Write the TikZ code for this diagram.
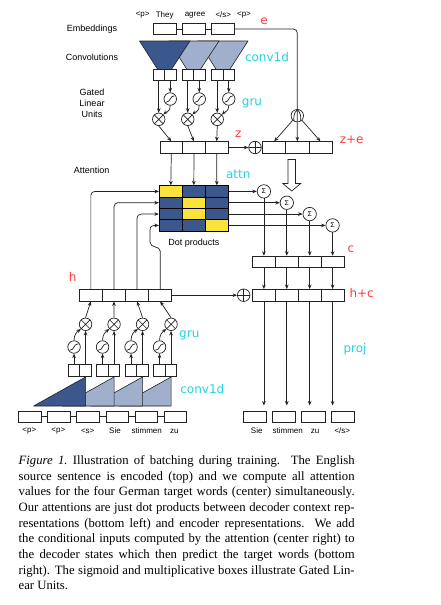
\documentclass[tikz,border=0pt]{standalone}
\usepackage{fontspec}
\setmainfont{Liberation Serif}
\setsansfont{Liberation Sans}
\newfontfamily\lblfont{DejaVu Sans}
\usetikzlibrary{arrows.meta}
\definecolor{dblue}{HTML}{3B578C}
\definecolor{lblue}{HTML}{A0AFCB}
\definecolor{cyel}{HTML}{FBE33C}
\definecolor{ccyan}{HTML}{22D3E0}
\definecolor{cred}{HTML}{FF3B3B}
\definecolor{lc}{HTML}{222222}
\begin{document}
\begin{tikzpicture}[x=1pt,y=-1pt,line width=0.7pt,
  box/.style={draw=lc, fill=white, inner sep=0, minimum width=23pt, minimum height=11.6pt},
  half/.style={draw=lc, fill=white, inner sep=0, minimum width=11.5pt, minimum height=11.6pt},
  cell/.style={draw=black, inner sep=0, minimum width=23pt, minimum height=11.33pt, line width=0.8pt},
  op/.style={circle, draw=lc, fill=white, inner sep=0, minimum size=12.5pt},
  otimes/.style={op, path picture={\draw[lc] (path picture bounding box.north west) -- (path picture bounding box.south east) (path picture bounding box.north east) -- (path picture bounding box.south west);}},
  oplus/.style={op, path picture={\draw[lc] (path picture bounding box.north) -- (path picture bounding box.south) (path picture bounding box.east) -- (path picture bounding box.west);}},
  osig/.style={op, path picture={\draw[lc] ([shift={(-4.2,3.2)}]path picture bounding box.center) .. controls ([shift={(0.8,3.2)}]path picture bounding box.center) and ([shift={(-0.8,-3.2)}]path picture bounding box.center) .. ([shift={(4.2,-3.2)}]path picture bounding box.center);}},
  ocopy/.style={op, path picture={\draw[lc] ([shift={(0,-7)}]path picture bounding box.center) -- ([shift={(0,7)}]path picture bounding box.center)
     ([shift={(0,-6.2)}]path picture bounding box.center) .. controls ([shift={(-3.5,-3)}]path picture bounding box.center) and ([shift={(-4,2)}]path picture bounding box.center) .. ([shift={(-3.2,6)}]path picture bounding box.center)
     ([shift={(0,-6.2)}]path picture bounding box.center) .. controls ([shift={(3.5,-3)}]path picture bounding box.center) and ([shift={(4,2)}]path picture bounding box.center) .. ([shift={(3.2,6)}]path picture bounding box.center);}},
  osum/.style={circle, draw=lc, fill=white, inner sep=0, minimum size=13.4pt, font=\sffamily\fontsize{7}{8}\selectfont},
  arr/.style={draw=lc, -{Stealth[length=4.5pt,width=3.6pt]}},
  wire/.style={draw=lc},
  word/.style={font=\sffamily\fontsize{8}{9}\selectfont, inner sep=0},
  side/.style={font=\sffamily\fontsize{9}{11}\selectfont, inner sep=0, align=center},
  cyl/.style={font=\lblfont\fontsize{12}{14}\selectfont, text=ccyan, inner sep=0},
  rdl/.style={font=\lblfont\fontsize{12}{14}\selectfont, text=cred, inner sep=0},
  tri/.style={draw=lc, line width=0.6pt, line join=round},
]
\fill[white] (0,0) rectangle (440,605);
\useasboundingbox (0,0) rectangle (440,605);

% ---------- side labels
\node[side] (lemb) at (92,29) {Embeddings};
\node[side] (lconv) at (92,57) {Convolutions};
\node[side] (lglu) at (92,103) {Gated\\Linear\\Units};
\node[side] (latt) at (91.7,170) {Attention};

% ---------- encoder embeddings
\node[word] (tw1) at (142.7,15) {<p>};
\node[word] (tw2) at (164.7,15) {They};
\node[word] (tw3) at (195,15) {agree};
\node[word] (tw4) at (223.3,15) {</s>};
\node[word] (tw5) at (244,15) {<p>};
\node[box] (e1) at (164.5,29) {};
\node[box] (e2) at (193.5,29) {};
\node[box] (e3) at (223,29) {};
\draw[wire] (e1) -- (e2);
\draw[wire] (e2) -- (e3);

% ---------- encoder convolutions
\filldraw[tri, fill=lblue] (198,41) -- (248,41) -- (223,80) -- cycle;
\filldraw[tri, fill=lblue] (169,41) -- (219,41) -- (193.5,80) -- cycle;
\filldraw[tri, fill=dblue] (139.5,41) -- (190,41) -- (164.5,80) -- cycle;
\foreach \i/\x in {1/153,2/182,3/211.5}{
  \node[half] (ca\i) at (\x+5.75,75) {};
  \node[half] (cb\i) at (\x+17.25,75) {};
  \node[osig] (sg\i) at (\x+17.25,99) {};
  \node[otimes] (mt\i) at (\x+5.75,119.3) {};
  \draw[arr] (ca\i.south) -- (mt\i.north);
  \draw[arr] (cb\i.south) -- (sg\i.north);
  \draw[arr] (sg\i.south) .. controls +(0,6) and +(3,-3) .. (mt\i.north east);
}

% ---------- z and z+e
\node[box, minimum width=22.7pt] (z1) at (171.3,147.5) {};
\node[box, minimum width=22.7pt] (z2) at (194,147.5) {};
\node[box, minimum width=22.7pt] (z3) at (216.7,147.5) {};
\foreach \i in {1,2,3}{ \draw[arr] (mt\i.south) -- (z\i.north); }
\node[oplus] (op1) at (255,147.5) {};
\draw[arr] (z3.east) -- (op1.west);
\node[box, minimum width=23.1pt] (ze1) at (274.25,147.5) {};
\node[box, minimum width=23.1pt] (ze2) at (297.35,147.5) {};
\node[box, minimum width=23.1pt] (ze3) at (320.45,147.5) {};
\node[ocopy] (cp) at (297.3,115.7) {};
\draw[wire, rounded corners=4pt] (e3.east) -| (cp.north);
\draw[arr] (cp.south west) -- (ze1.north);
\draw[arr] (cp.south) -- (ze2.north);
\draw[arr] (cp.south east) -- (ze3.north);

% ---------- attention matrix
\foreach \r/\cy in {1/191.4,2/202.73,3/214.07,4/225.4}{
  \foreach \c/\cx in {1/170.8,2/193.8,3/216.8}{
    \node[cell, fill=dblue] (m\r\c) at (\cx,\cy) {};
  }
}
\node[cell, fill=cyel] at (m11) {};
\node[cell, fill=cyel] at (m22) {};
\node[cell, fill=cyel] at (m32) {};
\node[cell, fill=cyel] at (m43) {};
\foreach \i in {1,2,3}{ \draw[arr] (z\i.south) -- (m1\i.north); }
\node[side] (ldot) at (193.8,242.7) {Dot products};

% hollow arrow
\draw[lc, line width=0.7pt, line join=miter, fill=white] (288,159.5) -- (295.5,159.5) -- (295.5,183.5) -- (300.7,183.5) -- (291.75,191) -- (282.8,183.5) -- (288,183.5) -- cycle;

% sums and c
\foreach \i/\x/\y in {1/263.9/191.4,2/286.8/202.73,3/309.7/214.07,4/332.6/225.4}{
  \node[osum] (s\i) at (\x,\y) {Σ};
  \draw[arr] (m\i3.east) -- (s\i.west);
  \node[box, minimum width=22.9pt] (c\i) at (\x,261.9) {};
  \node[box, minimum width=22.9pt] (hc\i) at (\x,295.2) {};
  \draw[arr] (s\i.south) -- (c\i.north);
  \draw[arr] (c\i.south) -- (hc\i.north);
  \coordinate (o\i) at (\x,405.5);
  \draw[arr] (hc\i.south) -- (o\i);
}

% ---------- decoder h
\foreach \i/\x in {1/90.85,2/113.95,3/137.05,4/160.15}{
  \node[box, minimum width=23.1pt] (h\i) at (\x,295.2) {};
}
\node[oplus] (op2) at (243.7,295.2) {};
\draw[arr] (h4.east) -- (op2.west);
\draw[arr, rounded corners=4pt] (h1.north) |- (m11.west);
\draw[arr, rounded corners=4pt] (h2.north) |- (m21.west);
\draw[arr, rounded corners=4pt] (h3.north) |- (m31.west);
\draw[arr] (h4.north) -- (160.15,251) .. controls (160.15,245.5) and (150,248.5) .. (150,242) -- (150,230.5) .. controls (150,226.5) and (151.5,225.4) .. (m41.west);

% ---------- decoder GLU
\foreach \i/\x in {1/68.3,2/96.8,3/125.3,4/153.8}{
  \node[half] (pa\i) at (\x+5.75,370.5) {};
  \node[half] (pb\i) at (\x+17.25,370.5) {};
  \node[osig] (bs\i) at (\x+5.75,347) {};
  \node[otimes] (bm\i) at (\x+17.25,324.3) {};
  \draw[arr] (pb\i.north) -- (bm\i.south);
  \draw[arr] (pa\i.north) -- (bs\i.south);
  \draw[arr] (bs\i.north) .. controls +(0,-6) and +(-4,3) .. (bm\i.south west);
  \draw[arr] (bm\i.north) -- (h\i.south);
}

% ---------- decoder convolutions
\filldraw[tri, fill=lblue] (119.05,406) -- (171.05,377) -- (171.05,406) -- cycle;
\filldraw[tri, fill=lblue] (90.55,406) -- (142.55,377) -- (142.55,406) -- cycle;
\filldraw[tri, fill=lblue] (62.05,406) -- (114.05,377) -- (114.05,406) -- cycle;
\filldraw[tri, fill=dblue] (33.55,406) -- (85.55,377) -- (85.55,406) -- cycle;

% ---------- decoder inputs
\foreach \i/\x in {1/29.65,2/58.85,3/88,4/117.15,5/146.35,6/175.5}{
  \node[box, minimum width=22.5pt, minimum height=11.3pt] (in\i) at (\x,416.7) {};
}
\foreach \i/\j in {1/2,2/3,3/4,4/5,5/6}{ \draw[wire] (in\i) -- (in\j); }
\node[word] (bw1) at (29.3,431) {<p>};
\node[word] (bw2) at (58.3,431) {<p>};
\node[word] (bw3) at (87.7,431) {<s>};
\node[word] (bw4) at (115,431) {Sie};
\node[word] (bw5) at (146.7,431) {stimmen};
\node[word] (bw6) at (174.3,431) {zu};

% ---------- outputs
\node[box, minimum width=23.3pt] (out1) at (255,416.8) {};
\node[box, minimum width=23.3pt] (out2) at (284,416.8) {};
\node[box, minimum width=23.3pt] (out3) at (313.3,416.8) {};
\node[box, minimum width=23.3pt] (out4) at (342.7,416.8) {};
\node[word] (ow1) at (256.7,431) {Sie};
\node[word] (ow2) at (287.7,431) {stimmen};
\node[word] (ow3) at (315,431) {zu};
\node[word] (ow4) at (342.3,431) {</s>};

% ---------- coloured labels
\node[rdl] (le) at (264,21) {e};
\node[cyl] (lc1) at (267,57) {conv1d};
\node[cyl] (lg1) at (252,103) {gru};
\node[rdl] (lz) at (238.3,134) {z};
\node[rdl] (lze) at (351.7,140) {z+e};
\node[cyl] (lat) at (238.3,174.3) {attn};
\node[rdl] (lcc) at (351,249.3) {c};
\node[rdl] (lh) at (72.7,276.7) {h};
\node[rdl] (lhc) at (361.7,293.3) {h+c};
\node[cyl] (lg2) at (189.3,335.5) {gru};
\node[cyl] (lpr) at (355,349.5) {proj};
\node[cyl] (lc2) at (202.3,389.3) {conv1d};

% ---------- caption
\node[anchor=north west, inner sep=0, text width=336pt, align=justify,
      font=\fontsize{12.7}{15.65}\selectfont] (cap) at (18.3,455.3) {%
\hyphenpenalty=10000\exhyphenpenalty=10000\emergencystretch=0pt\tolerance=10000%
\noindent\textit{Figure 1.}\ Illustration of batching during training.\ \ The English\linebreak
source sentence is encoded (top) and we compute all attention\linebreak
values for the four German target words (center) simultaneously.\linebreak
Our attentions are just dot products between decoder context rep-\linebreak
resentations (bottom left) and encoder representations.\ \ We add\linebreak
the conditional inputs computed by the attention (center right) to\linebreak
the decoder states which then predict the target words (bottom\linebreak
right). The sigmoid and multiplicative boxes illustrate Gated Lin-\linebreak
ear Units.};
\end{tikzpicture}
\end{document}
